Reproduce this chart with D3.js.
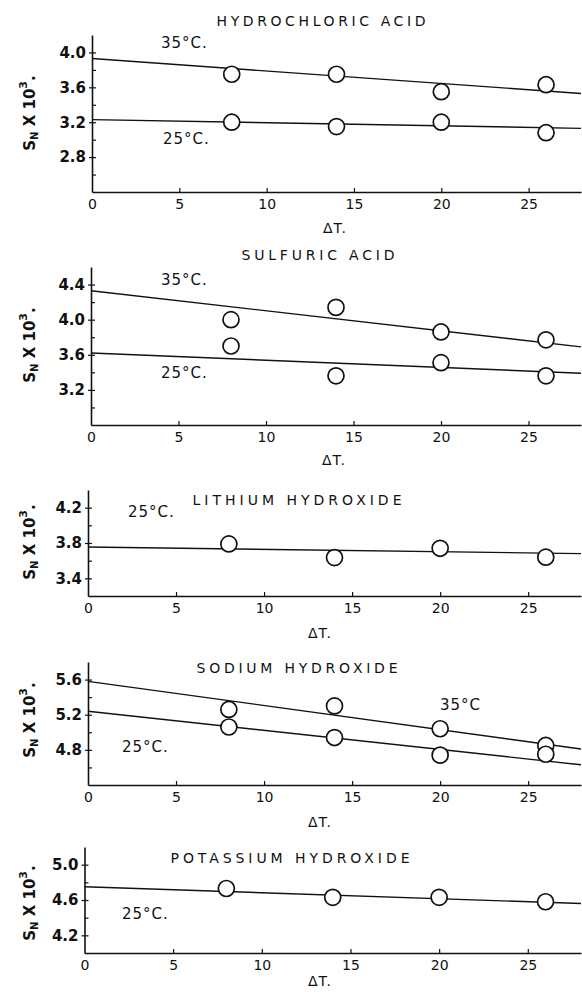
<!DOCTYPE html>
<html>
<head>
<meta charset="utf-8">
<script src="https://cdn.jsdelivr.net/npm/d3@7"></script>
<style>
  body { margin: 0; background: #fff; }
  text { font-family: "DejaVu Sans", sans-serif; fill: #111; }
</style>
</head>
<body>
<script>
// ΔT values of the measured points and of the fitted-line ends
const dT = [8, 14, 20, 26];
const fitDT = [0, 28];
const xTickLabels = [0, 5, 10, 15, 20, 25];
const xMinorTicks = [5, 10, 15, 20, 25];

// Hydrochloric acid
const hclTicks = [2.8, 3.2, 3.6, 4.0];
const hcl35 = [3.75, 3.75, 3.55, 3.63];
const hcl25 = [3.20, 3.15, 3.20, 3.08];
const hcl35Fit = [3.93, 3.53];
const hcl25Fit = [3.23, 3.13];

// Sulfuric acid
const sulTicks = [3.2, 3.6, 4.0, 4.4];
const sul35 = [4.00, 4.14, 3.86, 3.77];
const sul25 = [3.70, 3.36, 3.51, 3.36];
const sul35Fit = [4.33, 3.69];
const sul25Fit = [3.62, 3.39];

// Lithium hydroxide
const liTicks = [3.4, 3.8, 4.2];
const li25 = [3.79, 3.635, 3.74, 3.64];
const li25Fit = [3.755, 3.68];

// Sodium hydroxide
const naTicks = [4.8, 5.2, 5.6];
const na35 = [5.26, 5.30, 5.04, 4.85];
const na25 = [5.06, 4.94, 4.74, 4.75];
const na35Fit = [5.58, 4.81];
const na25Fit = [5.24, 4.63];

// Potassium hydroxide
const kTicks = [4.2, 4.6, 5.0];
const k25 = [4.73, 4.63, 4.63, 4.58];
const k25Fit = [4.75, 4.56];

const W = 582, H = 992;
const svg = d3.select("body").append("svg")
    .attr("width", W)
    .attr("height", H);

// panel layout (pixel positions only)
const panels = [
  {title: "HYDROCHLORIC ACID", titleX: 321, titleY: 21, titleW: 209,
   left: 92, top: 35, bottom: 192, domain: [2.4, 4.2], ticks: hclTicks,
   series: [[hcl35, hcl35Fit], [hcl25, hcl25Fit]],
   labels: [["35°C.", 161, 43], ["25°C.", 163, 139]],
   yLabelY: 113, dtX: 335, dtY: 228},
  {title: "SULFURIC ACID", titleX: 318, titleY: 255, titleW: 153,
   left: 91, top: 267, bottom: 425, domain: [2.8, 4.6], ticks: sulTicks,
   series: [[sul35, sul35Fit], [sul25, sul25Fit]],
   labels: [["35°C.", 161, 280], ["25°C.", 161, 373]],
   yLabelY: 345, dtX: 334, dtY: 460},
  {title: "LITHIUM HYDROXIDE", titleX: 297, titleY: 500, titleW: 209,
   left: 88, top: 490, bottom: 596, domain: [3.2, 4.4], ticks: liTicks,
   series: [[li25, li25Fit]],
   labels: [["25°C.", 128, 512]],
   yLabelY: 542, dtX: 320, dtY: 633},
  {title: "SODIUM HYDROXIDE", titleX: 297, titleY: 668, titleW: 201,
   left: 88, top: 662, bottom: 785, domain: [4.4, 5.8], ticks: naTicks,
   series: [[na35, na35Fit], [na25, na25Fit]],
   labels: [["35°C", 440, 705], ["25°C.", 122, 747]],
   yLabelY: 720, dtX: 320, dtY: 822},
  {title: "POTASSIUM HYDROXIDE", titleX: 290, titleY: 858, titleW: 239,
   left: 84.5, top: 847, bottom: 953, domain: [4.0, 5.2], ticks: kTicks,
   series: [[k25, k25Fit]],
   labels: [["25°C.", 122, 914]],
   yLabelY: 903, dtX: 320, dtY: 981}
];

const right = 581;

panels.forEach(p => {
  const g = svg.append("g");
  const x = d3.scaleLinear().domain([0, 28]).range([p.left, right]);
  const y = d3.scaleLinear().domain(p.domain).range([p.bottom, p.top]);

  // minor ticks every 0.2 on the y axis
  const minor = d3.range(p.domain[0] + 0.2, p.domain[1] - 0.05, 0.2).map(v => +v.toFixed(1));

  g.append("g")
      .attr("transform", `translate(${p.left},0)`)
      .call(d3.axisLeft(y).tickValues(minor).tickSize(-4).tickSizeOuter(0).tickFormat(""));
  const yLab = g.append("g")
      .attr("transform", `translate(${p.left},0)`)
      .call(d3.axisLeft(y).tickValues(p.ticks).tickSize(3).tickSizeOuter(0)
            .tickPadding(3).tickFormat(d3.format(".1f")));
  yLab.select(".domain").remove();
  yLab.selectAll("text").style("font-size", "15px").style("font-weight", "bold").style("font-family", "DejaVu Sans");

  g.append("g")
      .attr("transform", `translate(0,${p.bottom})`)
      .call(d3.axisBottom(x).tickValues(xMinorTicks).tickSize(-4).tickSizeOuter(0).tickFormat(""));
  const xLab = g.append("g")
      .attr("transform", `translate(0,${p.bottom})`)
      .call(d3.axisBottom(x).tickValues(xTickLabels).tickSize(0).tickPadding(7).tickFormat(d3.format("d")));
  xLab.select(".domain").remove();
  xLab.selectAll("text").style("font-size", "14px").style("font-family", "DejaVu Sans");

  g.selectAll(".domain").attr("stroke", "#111").attr("stroke-width", 1.6);
  g.selectAll(".tick line").attr("stroke", "#111").attr("stroke-width", 1.2);

  // fitted lines
  const line = d3.line().x(d => x(d[0])).y(d => y(d[1]));
  p.series.forEach(s => {
    g.append("path")
      .datum(fitDT.map((t, i) => [t, s[1][i]]))
      .attr("d", line)
      .attr("fill", "none")
      .attr("stroke", "#111")
      .attr("stroke-width", 1.4);
  });
  // measured points
  p.series.forEach(s => {
    g.selectAll(null)
      .data(dT.map((t, i) => [t, s[0][i]]))
      .enter().append("circle")
      .attr("cx", d => x(d[0]))
      .attr("cy", d => y(d[1]))
      .attr("r", 8)
      .attr("fill", "#fff")
      .attr("stroke", "#111")
      .attr("stroke-width", 1.7);
  });

  // title
  g.append("text")
    .attr("x", p.titleX - p.titleW / 2)
    .attr("y", p.titleY)
    .attr("dominant-baseline", "central")
    .attr("textLength", p.titleW)
    .attr("lengthAdjust", "spacing")
    .style("font-size", "14px")
    .text(p.title);

  // temperature labels
  p.labels.forEach(l => {
    g.append("text")
      .attr("x", l[1])
      .attr("y", l[2])
      .attr("dominant-baseline", "central")
      .style("font-size", "15px")
      .style("letter-spacing", "1px")
      .text(l[0]);
  });

  // x axis title
  g.append("text")
    .attr("x", p.dtX)
    .attr("y", p.dtY)
    .attr("text-anchor", "middle")
    .attr("dominant-baseline", "central")
    .style("font-size", "14px")
    .style("letter-spacing", "1px")
    .text("ΔT.");

  // y axis title  S_N x 10^3.
  const yt = g.append("text")
    .attr("transform", `translate(30,${p.yLabelY}) rotate(-90)`)
    .attr("text-anchor", "middle")
    .attr("dominant-baseline", "central")
    .style("font-size", "15px")
    .style("font-weight", "bold");
  yt.append("tspan").text("S");
  yt.append("tspan").attr("dy", 4).style("font-size", "10px").text("N");
  yt.append("tspan").attr("dy", -4).text(" X 10");
  yt.append("tspan").attr("dy", -7).style("font-size", "11px").text("3");
  yt.append("tspan").attr("dy", 7).text(".");
});
</script>
</body>
</html>
